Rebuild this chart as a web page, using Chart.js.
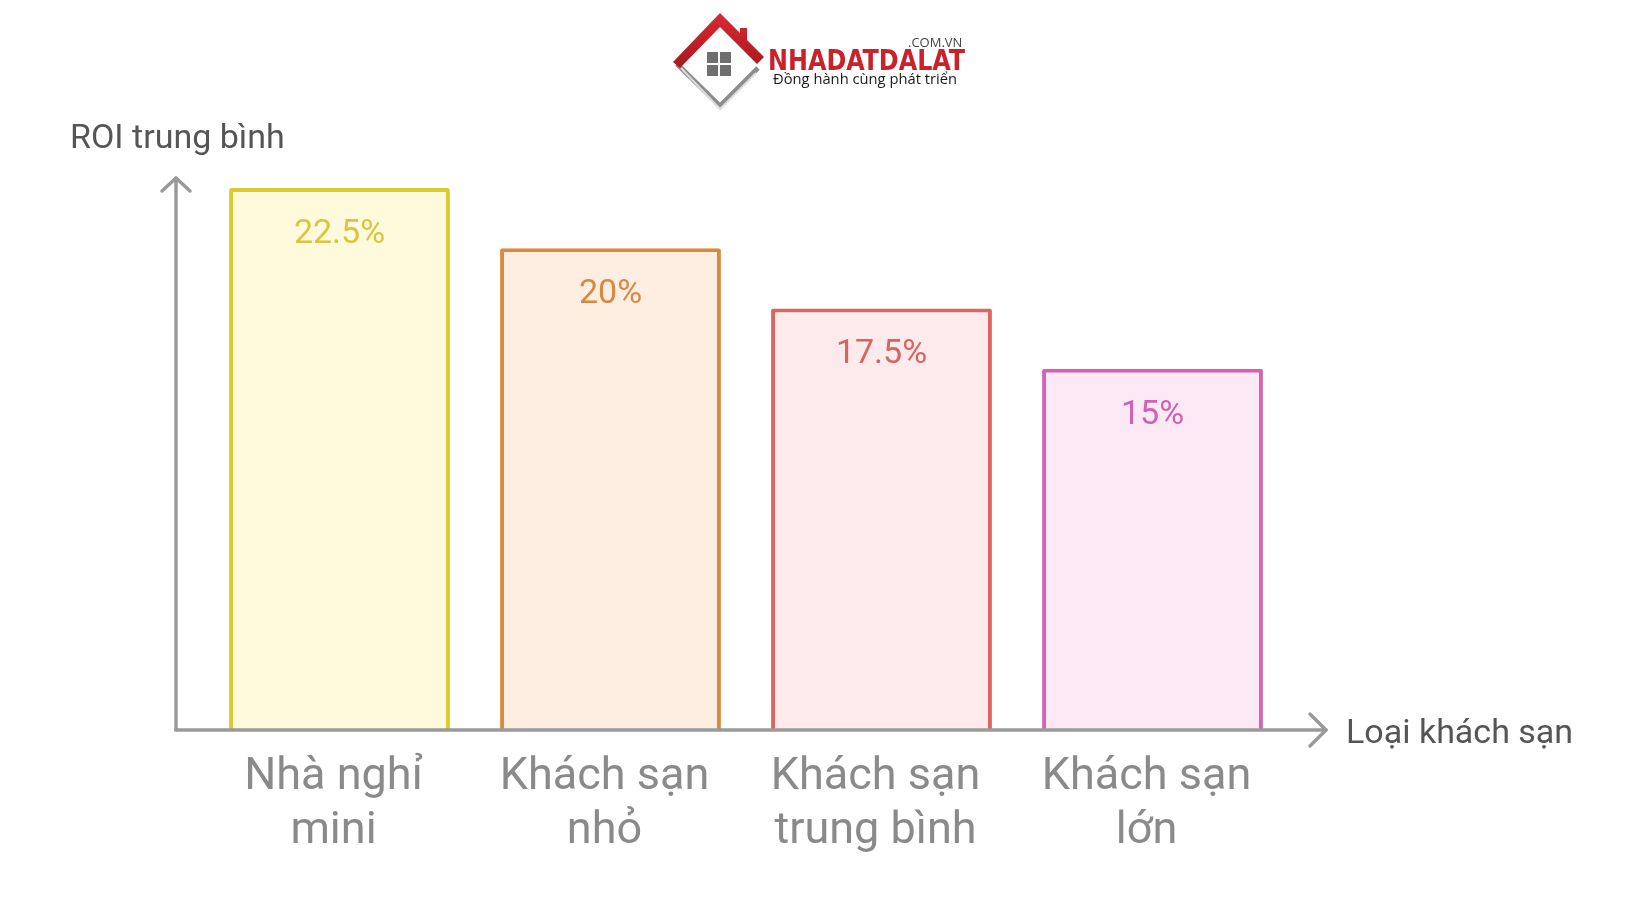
<!DOCTYPE html>
<html>
<head>
<meta charset="utf-8">
<script src="https://cdn.jsdelivr.net/npm/chart.js@4.4.1/dist/chart.umd.min.js"></script>
<style>
  html, body { margin: 0; padding: 0; background: #ffffff; }
  #wrap { width: 1640px; height: 924px; position: relative; }
</style>
</head>
<body>
<div id="wrap"><canvas id="graficoROI"></canvas></div>
<script>
// dados
const categorias = [['Nhà nghỉ', 'mini'], ['Khách sạn', 'nhỏ'], ['Khách sạn', 'trung bình'], ['Khách sạn', 'lớn']];
const roi = [22.5, 20, 17.5, 15];
const rotulos = ['22.5%', '20%', '17.5%', '15%'];
const tituloY = 'ROI trung bình';
const tituloX = 'Loại khách sạn';

const bordas = ['#dccb2e', '#d98a3e', '#dc6461', '#d264b2'];
const fundos = ['#fefadb', '#fdeee1', '#fdeaea', '#fde8f6'];
const corTexto = ['#d8c63c', '#d8893f', '#d86361', '#cf62b0'];

// eixos com setas + titulos + rotulos
const eixosPlugin = {
    id: 'eixos',
    afterDatasetsDraw(chart) {
        const ctx = chart.ctx;
        const area = chart.chartArea;
        const x0 = area.left - 28;
        const y0 = area.bottom;
        ctx.save();
        ctx.strokeStyle = '#9a9a9a';
        ctx.lineWidth = 3.5;
        ctx.lineCap = 'round';
        ctx.lineJoin = 'round';
        // eixo y
        ctx.beginPath();
        ctx.moveTo(x0, y0);
        ctx.lineTo(x0, area.top + 2);
        ctx.stroke();
        ctx.beginPath();
        ctx.moveTo(x0 - 14, area.top + 15);
        ctx.lineTo(x0, area.top + 2);
        ctx.lineTo(x0 + 14, area.top + 15);
        ctx.stroke();
        // eixo x
        const xEnd = area.right + 38;
        ctx.beginPath();
        ctx.moveTo(x0, y0);
        ctx.lineTo(xEnd, y0);
        ctx.stroke();
        ctx.beginPath();
        ctx.moveTo(xEnd - 16, y0 - 16);
        ctx.lineTo(xEnd, y0);
        ctx.lineTo(xEnd - 16, y0 + 16);
        ctx.stroke();

        // rotulos dentro das barras
        const meta = chart.getDatasetMeta(0);
        ctx.font = '34px Roboto, sans-serif';
        ctx.textAlign = 'center';
        ctx.textBaseline = 'alphabetic';
        meta.data.forEach((bar, i) => {
            ctx.fillStyle = corTexto[i];
            ctx.fillText(rotulos[i], bar.x, bar.y + 55);
        });

        // titulos
        ctx.fillStyle = '#555555';
        ctx.font = '34px Roboto, sans-serif';
        ctx.textAlign = 'left';
        ctx.fillText(tituloY, 70, 148);
        ctx.fillText(tituloX, xEnd + 20, y0 + 13);
        ctx.restore();
    }
};

// logo
const logoPlugin = {
    id: 'logo',
    afterDraw(chart) {
        const ctx = chart.ctx;
        ctx.save();
        // parte de baixo do losango (cinza)
        ctx.strokeStyle = '#8c8c8c';
        ctx.lineWidth = 5;
        ctx.lineJoin = 'miter';
        ctx.beginPath();
        ctx.moveTo(677, 64);
        ctx.lineTo(720, 106);
        ctx.lineTo(758, 68);
        ctx.stroke();
        ctx.strokeStyle = '#dcdcdc';
        ctx.lineWidth = 2;
        ctx.beginPath();
        ctx.moveTo(681, 68);
        ctx.lineTo(720, 109);
        ctx.lineTo(756, 73);
        ctx.stroke();
        // telhado vermelho
        const gradT = ctx.createLinearGradient(0, 14, 0, 67);
        gradT.addColorStop(0, '#d82a33');
        gradT.addColorStop(1, '#a91820');
        ctx.fillStyle = gradT;
        ctx.beginPath();
        ctx.moveTo(673, 62);
        ctx.lineTo(720, 13);
        ctx.lineTo(764, 57);
        ctx.lineTo(757, 64);
        ctx.lineTo(720, 27);
        ctx.lineTo(680, 68);
        ctx.closePath();
        ctx.fill();
        ctx.fillRect(740, 28, 7, 12);
        // janela
        ctx.fillStyle = '#6f6f6f';
        ctx.fillRect(707, 52, 11, 11);
        ctx.fillRect(720, 52, 11, 11);
        ctx.fillRect(707, 65, 11, 11);
        ctx.fillRect(720, 65, 11, 11);
        // textos
        ctx.textBaseline = 'alphabetic';
        ctx.textAlign = 'left';
        ctx.fillStyle = '#444444';
        ctx.font = '13px "Open Sans", sans-serif';
        ctx.fillText('.COM.VN', 908, 47);
        ctx.font = 'bold 28px "Liberation Sans Narrow", "DejaVu Sans Condensed", sans-serif';
        const marca = 'NHADATDALAT';
        const w = ctx.measureText(marca).width;
        const grad = ctx.createLinearGradient(0, 50, 0, 70);
        grad.addColorStop(0, '#c8222b');
        grad.addColorStop(1, '#8e1018');
        ctx.fillStyle = grad;
        ctx.translate(768, 70);
        ctx.scale(197 / w, 1);
        ctx.fillText(marca, 0, 0);
        ctx.setTransform(1, 0, 0, 1, 0, 0);
        ctx.fillStyle = '#1a1a1a';
        ctx.font = '15px "Open Sans", sans-serif';
        const slogan = 'Đồng hành cùng phát triển';
        const ws = ctx.measureText(slogan).width;
        ctx.translate(773, 84);
        ctx.scale(184 / ws, 1);
        ctx.fillText(slogan, 0, 0);
        ctx.restore();
    }
};

new Chart(document.getElementById('graficoROI'), {
    type: 'bar',
    data: {
        labels: categorias,
        datasets: [{
            label: tituloY,
            data: roi,
            backgroundColor: fundos,
            borderColor: bordas,
            borderWidth: 4,
            borderRadius: 2,
            borderSkipped: 'bottom',
            barPercentage: 0.815,
            categoryPercentage: 1.0
        }]
    },
    options: {
        responsive: true,
        maintainAspectRatio: false,
        animation: false,
        layout: {
            padding: { left: 204, right: 352, top: 176, bottom: 0 }
        },
        plugins: {
            legend: { display: false },
            tooltip: { enabled: false },
            title: { display: false }
        },
        scales: {
            x: {
                grid: { display: false },
                border: { display: false },
                ticks: {
                    color: '#8a8a8a',
                    padding: 13,
                    labelOffset: -6,
                    maxRotation: 0,
                    font: { family: 'Roboto', size: 45, lineHeight: 1.2 }
                },
                afterFit(scale) { scale.height = 194; }
            },
            y: {
                display: false,
                min: 0,
                max: 23
            }
        }
    },
    plugins: [eixosPlugin, logoPlugin]
});
</script>
</body>
</html>
